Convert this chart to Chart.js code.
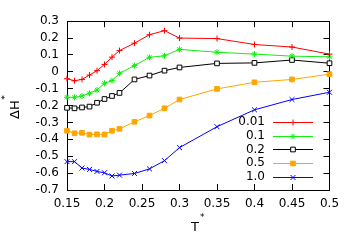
<!DOCTYPE html>
<html><head><meta charset="utf-8">
<script src="https://cdn.jsdelivr.net/npm/chart.js@4"></script>
<style>html,body{margin:0;padding:0;background:#fff}#wrap{width:354px;height:248px}</style>
</head><body><div id="wrap"><canvas id="c" width="354" height="248"></canvas></div>
<script>
const T = [0.15,0.16,0.17,0.18,0.19,0.20,0.21,0.22,0.24,0.26,0.28,0.30,0.35,0.40,0.45,0.50];
const seriesLabels = ['0.01','0.1','0.2','0.5','1.0'];
const dH_001 = [-0.041,-0.053,-0.045,-0.019,0.007,0.044,0.087,0.126,0.170,0.220,0.244,0.200,0.197,0.162,0.147,0.105];
const dH_01  = [-0.151,-0.151,-0.143,-0.127,-0.108,-0.068,-0.052,-0.009,0.037,0.086,0.095,0.133,0.116,0.105,0.093,0.089];
const dH_02  = [-0.213,-0.216,-0.211,-0.206,-0.183,-0.161,-0.143,-0.125,-0.045,-0.022,0.007,0.026,0.050,0.053,0.070,0.051];
const dH_05  = [-0.349,-0.364,-0.361,-0.372,-0.370,-0.371,-0.349,-0.338,-0.296,-0.259,-0.216,-0.164,-0.101,-0.062,-0.045,-0.014];
const dH_10  = [-0.532,-0.532,-0.570,-0.578,-0.590,-0.598,-0.617,-0.612,-0.602,-0.575,-0.526,-0.449,-0.325,-0.225,-0.164,-0.121];
const xTickValues = [0.15,0.2,0.25,0.3,0.35,0.4,0.45,0.5];
const xTickLabels = ['0.15','0.2','0.25','0.3','0.35','0.4','0.45','0.5'];
const yTickValues = [-0.7,-0.6,-0.5,-0.4,-0.3,-0.2,-0.1,0,0.1,0.2,0.3];
const yTickLabels = ['-0.7','-0.6','-0.5','-0.4','-0.3','-0.2','-0.1','0','0.1','0.2','0.3'];

const FONT = {family:'"DejaVu Sans", sans-serif', size:12};
const seriesValues = [dH_001, dH_01, dH_02, dH_05, dH_10];
const colors = ['#ff0000','#11ee11','#000000','#ffa500','#0000ff'];
const styles = ['cross','star','rect','rect','crossRot'];
const fills  = ['#ff0000','#11ee11','#ffffff','#ffa500','#0000ff'];
const radii  = [3,3,3.3,3.3,3.5];

const datasets = seriesValues.map((vals,i)=>({
  label: seriesLabels[i],
  data: T.map((t,k)=>({x:t,y:vals[k]})),
  borderColor: colors[i], borderWidth: 1,
  pointStyle: styles[i], pointRadius: radii[i], pointBorderWidth: 1,
  pointBorderColor: colors[i], pointBackgroundColor: fills[i],
  tension: 0, fill: false, clip: false
}));

function setTicks(vals){ return s => { s.ticks = vals.map(v=>({value:v})); }; }
const gridMirror = {drawOnChartArea:false, tickLength:-6, color:'#000', tickWidth:1};

const overlay = {
  id:'overlay',
  afterDraw(chart){
    const ctx = chart.ctx, a = chart.chartArea;
    ctx.save();
    ctx.fillStyle = '#000';
    ctx.font = '12px "DejaVu Sans"';
    // legend
    chart.data.datasets.forEach((ds,i)=>{
      const y = a.bottom - 68 + i*13.7;
      ctx.textAlign = 'right'; ctx.textBaseline = 'middle';
      ctx.fillStyle = '#000';
      ctx.fillText(ds.label, a.right - 64.5, y);
      ctx.strokeStyle = ds.borderColor; ctx.lineWidth = 1;
      ctx.beginPath(); ctx.moveTo(a.right-56.5, Math.round(y)+0.5); ctx.lineTo(a.right-16.5, Math.round(y)+0.5); ctx.stroke();
      ctx.fillStyle = ds.pointBackgroundColor;
      Chart.helpers.drawPoint(ctx, {pointStyle: ds.pointStyle, radius: ds.pointRadius, borderWidth:1, rotation:0}, a.right-36.5, Math.round(y)+0.5);
      ctx.fillStyle = ds.pointBackgroundColor; ctx.strokeStyle = ds.borderColor;
    });
    // x title
    ctx.fillStyle = '#000';
    ctx.textAlign = 'left'; ctx.textBaseline = 'alphabetic';
    ctx.font = '13px "DejaVu Sans"';
    ctx.fillText('T', 191, 231);
    ctx.font = '9px "DejaVu Sans"';
    ctx.fillText('*', 200, 220);
    // y title
    ctx.translate(18.5, 119);
    ctx.rotate(-Math.PI/2);
    ctx.font = '13px "DejaVu Sans"';
    ctx.fillText('\u0394H', 0, 0);
    const w = ctx.measureText('\u0394H').width;
    ctx.font = '9px "DejaVu Sans"';
    ctx.fillText('*', w + 0.5, -11);
    ctx.restore();
  }
};

new Chart(document.getElementById('c'), {
  type:'line',
  data:{datasets},
  plugins:[overlay],
  options:{
    responsive:false, animation:false, devicePixelRatio:1,
    layout:{padding:{top:16,right:24.5,left:0,bottom:0}},
    plugins:{legend:{display:false}, tooltip:{enabled:false}},
    scales:{
      x:{type:'linear', position:'bottom', min:0.15, max:0.5,
        afterBuildTicks:setTicks(xTickValues),
        ticks:{callback:(v,i)=>xTickLabels[i], font:FONT, color:'#000', padding:12.5, maxRotation:0, autoSkip:false},
        grid:gridMirror, border:{color:'#000', width:1},
        afterFit:s=>{s.height=58;}},
      x2:{type:'linear', position:'top', min:0.15, max:0.5,
        afterBuildTicks:setTicks(xTickValues),
        ticks:{display:false},
        grid:gridMirror, border:{color:'#000', width:1},
        afterFit:s=>{s.height=0;}},
      y:{type:'linear', position:'left', min:-0.7, max:0.3,
        afterBuildTicks:setTicks(yTickValues),
        ticks:{callback:(v,i)=>yTickLabels[i], font:FONT, color:'#000', padding:14, autoSkip:false},
        grid:gridMirror, border:{color:'#000', width:1},
        afterFit:s=>{s.width=67;}},
      y2:{type:'linear', position:'right', min:-0.7, max:0.3,
        afterBuildTicks:setTicks(yTickValues),
        ticks:{display:false},
        grid:gridMirror, border:{color:'#000', width:1},
        afterFit:s=>{s.width=0;}}
    }
  }
});
</script>
</body></html>
